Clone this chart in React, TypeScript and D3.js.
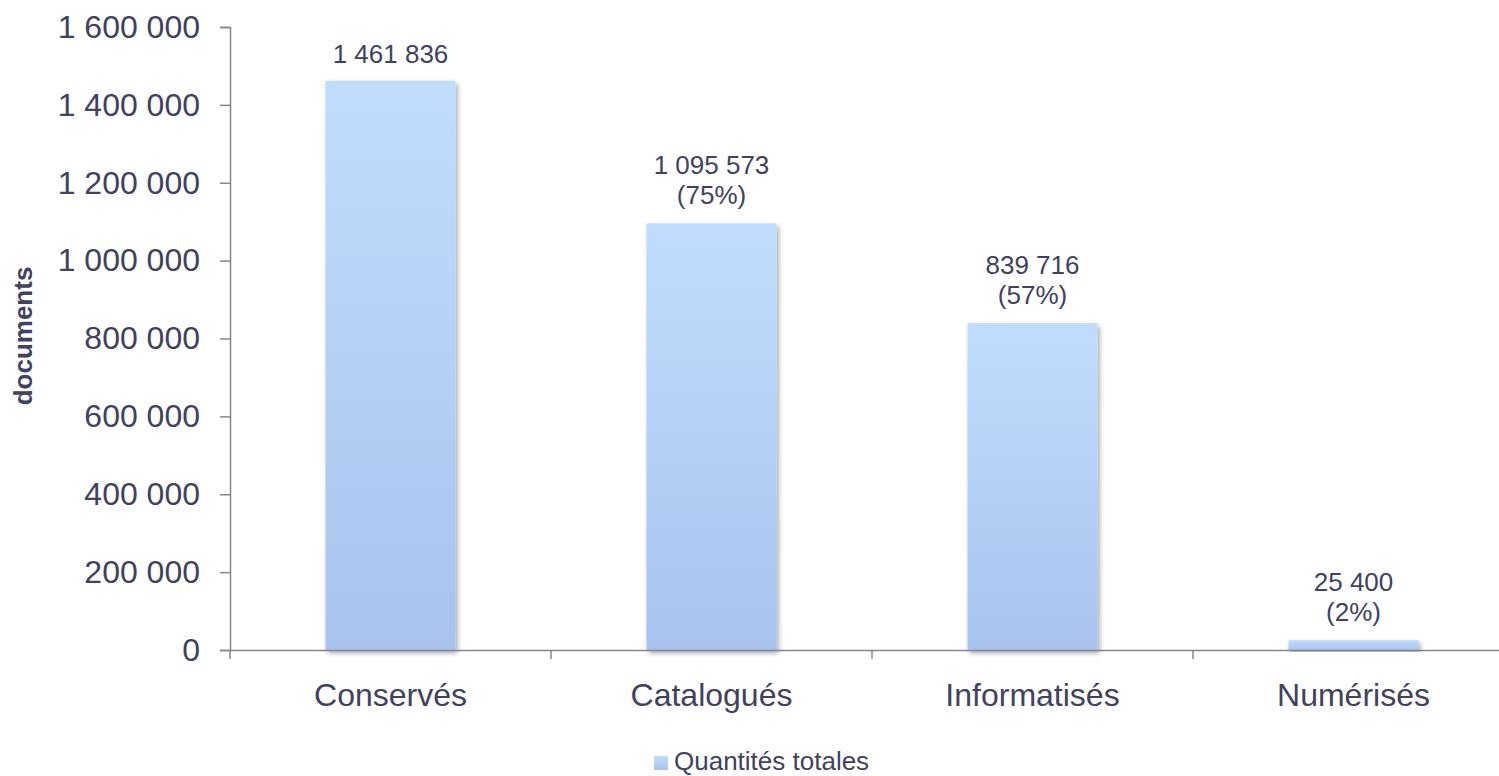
import React, { useEffect, useRef } from 'react';
import * as d3 from 'd3';

const categories = ['Conservés', 'Catalogués', 'Informatisés', 'Numérisés'];
const values = [1461836, 1095573, 839716, 25400];
const valueLabels = ['1 461 836', '1 095 573', '839 716', '25 400'];
const percentLabels = ['', '(75%)', '(57%)', '(2%)'];
const yTicks = [0, 200000, 400000, 600000, 800000, 1000000, 1200000, 1400000, 1600000];
const seriesName = 'Quantités totales';

const textColor = '#40425f';
const axisColor = '#868692';
const font = 'Arial, "Liberation Sans", sans-serif';

export default function App() {
  const svgRef = useRef<SVGSVGElement>(null);

  useEffect(() => {
    if (!svgRef.current) return;
    const width = 1499;
    const height = 776;
    const svg = d3.select(svgRef.current);
    svg.selectAll('*').remove();

    const defs = svg.append('defs');
    const grad = defs.append('linearGradient')
      .attr('id', 'barGrad').attr('x1', 0).attr('y1', 0).attr('x2', 0).attr('y2', 1);
    grad.append('stop').attr('offset', '0%').attr('stop-color', '#c0ddfd');
    grad.append('stop').attr('offset', '100%').attr('stop-color', '#a8c3ee');

    const shadow = defs.append('filter').attr('id', 'shadow')
      .attr('x', '-10%').attr('y', '-10%').attr('width', '130%').attr('height', '130%');
    shadow.append('feDropShadow')
      .attr('dx', 2).attr('dy', 3).attr('stdDeviation', 2.5)
      .attr('flood-color', '#000').attr('flood-opacity', 0.35);

    const y = d3.scaleLinear().domain([0, 1600000]).range([650, 27]);
    const x = d3.scaleBand<string>()
      .domain(categories)
      .range([230, 1514])
      .paddingInner(0.595)
      .paddingOuter(0.2975);

    // Y axis
    const yAxis = d3.axisLeft(y)
      .tickValues(yTicks)
      .tickSize(10)
      .tickPadding(20)
      .tickFormat(d => d3.format(',')(d as number).replace(/,/g, ' '));
    const yg = svg.append('g').attr('transform', 'translate(230,0)').call(yAxis);
    yg.select('.domain').attr('stroke', axisColor).attr('stroke-width', 1.5);
    yg.selectAll('.tick line').attr('stroke', axisColor).attr('stroke-width', 1.5);
    yg.selectAll('.tick text')
      .attr('fill', textColor)
      .attr('font-family', font)
      .attr('font-size', 32);

    // Bars
    svg.append('g').selectAll('rect')
      .data(values)
      .enter().append('rect')
      .attr('x', (_, i) => x(categories[i])!)
      .attr('width', x.bandwidth())
      .attr('y', d => y(d))
      .attr('height', d => 650 - y(d))
      .attr('fill', 'url(#barGrad)')
      .attr('filter', 'url(#shadow)');

    // X axis
    const xg = svg.append('g');
    xg.append('line')
      .attr('x1', 230).attr('x2', width)
      .attr('y1', 650.5).attr('y2', 650.5)
      .attr('stroke', axisColor).attr('stroke-width', 1.5);
    const step = x.step();
    xg.selectAll('.xtick')
      .data(d3.range(categories.length + 1))
      .enter().append('line')
      .attr('x1', i => 230 + i * step).attr('x2', i => 230 + i * step)
      .attr('y1', 650).attr('y2', 659)
      .attr('stroke', axisColor).attr('stroke-width', 1.5);
    xg.selectAll('.xlabel')
      .data(categories)
      .enter().append('text')
      .attr('x', d => x(d)! + x.bandwidth() / 2)
      .attr('y', 706)
      .attr('text-anchor', 'middle')
      .attr('fill', textColor)
      .attr('font-family', font)
      .attr('font-size', 32)
      .text(d => d);

    // Value labels
    const lbl = svg.append('g');
    values.forEach((v, i) => {
      const cx = x(categories[i])! + x.bandwidth() / 2;
      const top = y(v);
      const hasPct = percentLabels[i] !== '';
      lbl.append('text')
        .attr('x', cx)
        .attr('y', hasPct ? top - 49 : top - 18)
        .attr('text-anchor', 'middle')
        .attr('fill', textColor)
        .attr('font-family', font)
        .attr('font-size', 26)
        .text(valueLabels[i]);
      if (hasPct) {
        lbl.append('text')
          .attr('x', cx)
          .attr('y', top - 19)
          .attr('text-anchor', 'middle')
          .attr('fill', textColor)
          .attr('font-family', font)
          .attr('font-size', 26)
          .text(percentLabels[i]);
      }
    });

    // Y axis title
    svg.append('text')
      .attr('transform', 'translate(32,336) rotate(-90)')
      .attr('text-anchor', 'middle')
      .attr('fill', textColor)
      .attr('font-family', font)
      .attr('font-weight', 'bold')
      .attr('font-size', 26)
      .text('documents');

    // Legend
    const leg = svg.append('g');
    leg.append('rect')
      .attr('x', 654).attr('y', 756).attr('width', 14).attr('height', 14)
      .attr('fill', 'url(#barGrad)');
    leg.append('text')
      .attr('x', 674).attr('y', 770)
      .attr('fill', textColor)
      .attr('font-family', font)
      .attr('font-size', 26)
      .text(seriesName);

    svg.attr('width', width).attr('height', height);
  }, []);

  return (
    <div style={{ position: 'absolute', left: 0, top: 0, width: 1499, height: 776, background: '#fff' }}>
      <svg ref={svgRef} width={1499} height={776} style={{ display: 'block' }} />
    </div>
  );
}
